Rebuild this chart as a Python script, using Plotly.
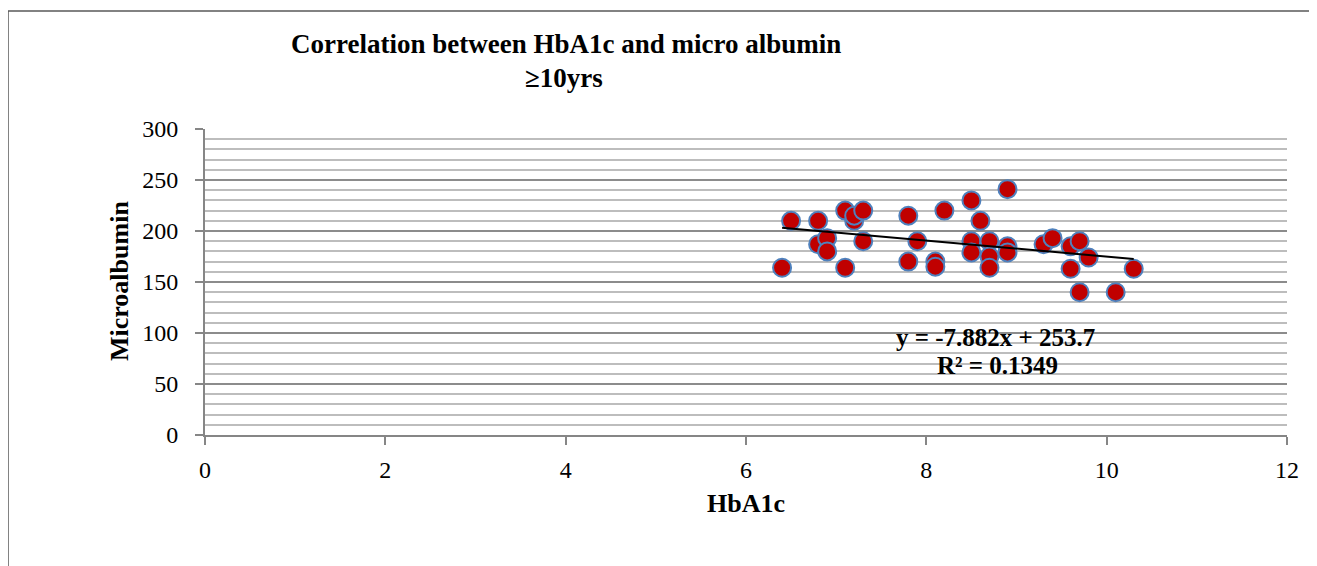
import plotly.graph_objects as go

# ---- data ----
hba1c = [6.4, 6.5, 6.8, 6.8, 6.9, 6.9, 7.1, 7.1, 7.2, 7.2, 7.3, 7.3, 7.8, 7.8, 7.9,
         8.1, 8.1, 8.2, 8.5, 8.5, 8.5, 8.6, 8.7, 8.7, 8.7, 8.9, 8.9, 8.9, 9.3, 9.4,
         9.6, 9.6, 9.7, 9.7, 9.8, 10.1, 10.3]
microalbumin = [164, 210, 210, 187, 193, 180, 220, 164, 210, 215, 220, 190, 215, 170, 190,
                170, 165, 220, 230, 190, 179, 210, 190, 175, 164, 241, 185, 179, 187, 193,
                185, 163, 190, 140, 174, 140, 163]
slope = -7.882
intercept = 253.7
r_squared = 0.1349

title_line1 = "Correlation between HbA1c and micro albumin"
title_line2 = "≥10yrs"
x_title = "HbA1c"
y_title = "Microalbumin"
eq_text = "y = -7.882x + 253.7"
r2_text = "R² = 0.1349"

OFF = 8  # page body margin
W, H = 1317, 566
L, T = 205 - OFF, 129 - OFF
R = W - (1287 - OFF)
B = H - (435 - OFF)
PW, PH = W - L - R, H - T - B

def px(p):  # reference pixel x -> paper x
    return (p - OFF - L) / PW

def py(p):  # reference pixel y -> paper y
    return (H - B - (p - OFF)) / PH

FONT = "Liberation Serif"

trend_x = [min(hba1c), max(hba1c)]
trend_y = [slope * v + intercept for v in trend_x]

fig = go.Figure()
fig.add_trace(go.Scatter(
    x=hba1c, y=microalbumin, mode="markers",
    marker=dict(size=18, color="#C00000", line=dict(color="#4F81BD", width=2)),
    showlegend=False, hoverinfo="skip"))
fig.add_trace(go.Scatter(
    x=trend_x, y=trend_y, mode="lines",
    line=dict(color="black", width=2), showlegend=False, hoverinfo="skip"))

grid_major = "#8C8C8C"
grid_minor = "#BDBDBD"

fig.update_layout(
    width=W, height=H,
    margin=dict(l=L, r=R, t=T, b=B),
    paper_bgcolor="white", plot_bgcolor="white",
    font=dict(family=FONT, color="black", size=24),
    xaxis=dict(range=[0, 12], tickvals=[0, 2, 4, 6, 8, 10, 12], showgrid=False,
               zeroline=False, showline=True, linecolor="#868686", linewidth=2,
               ticks="outside", ticklen=8, tickwidth=2, tickcolor="#868686",
               ticklabelstandoff=4,
               tickfont=dict(size=24, family=FONT)),
    yaxis=dict(range=[0, 300], dtick=50, showgrid=True, gridcolor=grid_major, gridwidth=2,
               zeroline=False, showline=True, linecolor="#868686", linewidth=2,
               ticks="outside", ticklen=8, tickwidth=2, tickcolor="#868686",
               ticklabelstandoff=12,
               tickfont=dict(size=24, family=FONT),
               minor=dict(dtick=10, showgrid=True, gridcolor=grid_minor, gridwidth=2,
                          ticks="")),
)

ann = [
    dict(text="<b>" + title_line1 + "</b>", x=px(566), y=py(44), size=27),
    dict(text="<b>" + title_line2 + "</b>", x=px(564), y=py(78), size=27),
    dict(text="<b>" + x_title + "</b>", x=0.5, y=py(503), size=26),
    dict(text="<b>" + eq_text + "</b>", x=px(995), y=py(337), size=25),
    dict(text="<b>" + r2_text + "</b>", x=px(997), y=py(365), size=25),
]
for a in ann:
    fig.add_annotation(text=a["text"], x=a["x"], y=a["y"], xref="paper", yref="paper",
                       xanchor="center", yanchor="middle", showarrow=False,
                       font=dict(size=a["size"], family=FONT, color="black"))
fig.add_annotation(text="<b>" + y_title + "</b>", x=px(119), y=py(281), xref="paper",
                   yref="paper", xanchor="center", yanchor="middle", showarrow=False,
                   textangle=-90, font=dict(size=26, family=FONT, color="black"))

# outer chart-area border
fig.add_shape(type="rect", xref="paper", yref="paper",
              x0=px(8), x1=px(1340), y0=py(620), y1=py(11),
              line=dict(color="#595959", width=1.5), fillcolor="rgba(0,0,0,0)", layer="below")

fig.write_html("out.html")
